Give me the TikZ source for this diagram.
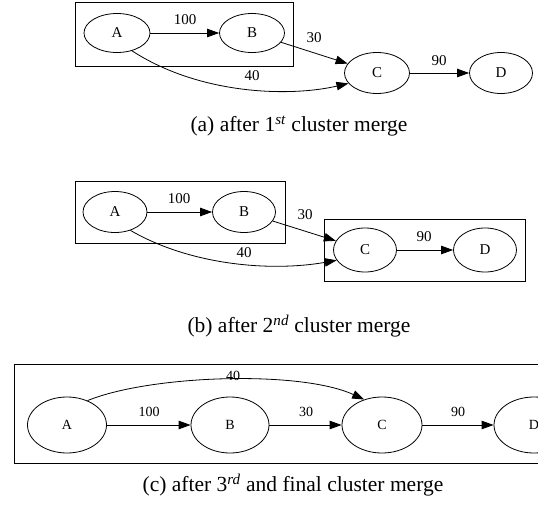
\documentclass[tikz,border=0pt]{standalone}
\usepackage{fontspec}
\setmainfont{Liberation Serif}
\usetikzlibrary{shapes.geometric,arrows.meta}
\begin{document}
\begin{tikzpicture}[x=1pt,y=-1pt,
  nd/.style={draw, ellipse, inner sep=0pt, line width=0.8pt, font=\fontsize{15}{17}\selectfont},
  ndc/.style={nd, font=\fontsize{14}{16}\selectfont},
  lbl/.style={inner sep=0pt, font=\fontsize{15}{17}\selectfont},
  lblc/.style={inner sep=0pt, font=\fontsize{14}{16}\selectfont},
  captxt/.style={inner sep=0pt, font=\fontsize{21.5}{24}\selectfont},
  box/.style={draw, line width=0.8pt},
  conn/.style={line width=0.8pt, -{Triangle[length=12pt,width=8.5pt]}}]
\useasboundingbox (0,0) rectangle (538,506);
\clip (0,0) rectangle (538,506);
% ---------- (a)
\draw[box] (75,2) rectangle (293,66);
\node[nd, minimum width=66pt, minimum height=39pt] (aA) at (117,33) {A};
\node[nd, minimum width=65pt, minimum height=39pt] (aB) at (252,33) {B};
\node[nd, minimum width=65pt, minimum height=41pt] (aC) at (377,73) {C};
\node[nd, minimum width=63pt, minimum height=41pt] (aD) at (501,73) {D};
\draw[conn] (aA) -- (aB);
\draw[conn] (aB) -- (aC);
\draw[conn] (aC) -- (aD);
\draw[conn] (aA.-50) .. controls (200,95) and (290,97) .. (aC.-160);
\node[lbl] (aL1) at (185,20) {100};
\node[lbl] (aL2) at (314,38) {30};
\node[lbl] (aL3) at (252,76) {40};
\node[lbl] (aL4) at (439,61) {90};
\node[captxt] (capa) at (299,126) {(a) after 1\textsuperscript{\textit{st}} cluster merge};
% ---------- (b)
\draw[box] (75,181) rectangle (285,243);
\draw[box] (324,219) rectangle (525,281);
\node[nd, minimum width=64pt, minimum height=41pt] (bA) at (115,212) {A};
\node[nd, minimum width=63pt, minimum height=41pt] (bB) at (244,212) {B};
\node[nd, minimum width=63pt, minimum height=44pt] (bC) at (365,250) {C};
\node[nd, minimum width=63pt, minimum height=44pt] (bD) at (485,250) {D};
\draw[conn] (bA) -- (bB);
\draw[conn] (bB) -- (bC);
\draw[conn] (bC) -- (bD);
\draw[conn] (bA.-50) .. controls (190,265) and (270,272) .. (bC.-160);
\node[lbl] (bL1) at (179,199) {100};
\node[lbl] (bL2) at (305,215) {30};
\node[lbl] (bL3) at (244,253) {40};
\node[lbl] (bL4) at (424,237) {90};
\node[captxt] (capb) at (299,326) {(b) after 2\textsuperscript{\textit{nd}} cluster merge};
% ---------- (c)
\draw[box] (14,364) rectangle (600,463);
\node[ndc, minimum width=79pt, minimum height=56pt] (cA) at (67,425) {A};
\node[ndc, minimum width=78pt, minimum height=56pt] (cB) at (230,425) {B};
\node[ndc, minimum width=80pt, minimum height=56pt] (cC) at (382,425) {C};
\node[ndc, minimum width=80pt, minimum height=56pt] (cD) at (534,425) {D};
\draw[conn] (cA) -- (cB);
\draw[conn] (cB) -- (cC);
\draw[conn] (cC) -- (cD);
\draw[conn] (cA.50) .. controls (150,375) and (300,370) .. (cC.125);
\node[lblc] (cL1) at (149,412) {100};
\node[lblc] (cL2) at (306,412) {30};
\node[lblc] (cL3) at (233,376) {40};
\node[lblc] (cL4) at (458,412) {90};
\node[captxt] (capc) at (293,485) {(c) after 3\textsuperscript{\textit{rd}} and final cluster merge};
\end{tikzpicture}
\end{document}
